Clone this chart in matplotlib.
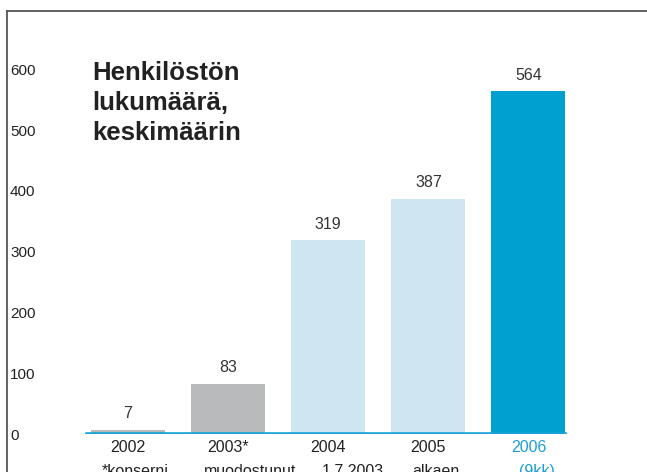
import matplotlib
matplotlib.use("Agg")
import matplotlib.pyplot as plt
from matplotlib.lines import Line2D

plt.rcParams['font.family'] = ['Liberation Sans', 'DejaVu Sans']

years = ["2002", "2003*", "2004", "2005", "2006"]
notes = ["*konserni", "muodostunut", "1.7.2003", "alkaen", "(9kk)"]
values = [7, 83, 319, 387, 564]
yticks = [0, 100, 200, 300, 400, 500, 600]
title = "Henkilöstön\nlukumäärä,\nkeskimäärin"

bar_colors = ["#b9babc", "#b9babc", "#cfe5f2", "#cfe5f2", "#00a0d1"]
label_colors = ["#222222", "#222222", "#222222", "#222222", "#1a9fd4"]
note_dx_px = [7, 22, 25, 8, 8]

W, H = 647, 472
fig = plt.figure(figsize=(W / 100, H / 100), dpi=100)
ax = fig.add_axes([60 / W, 38 / H, 560 / W, 423 / H])

x = list(range(len(values)))
ax.bar(x, values, width=0.739, color=bar_colors, zorder=2)
ax.set_xlim(-0.679, 4.914)
ax.set_ylim(0, 696)

for s in ax.spines.values():
    s.set_visible(False)

ax.axhline(0, xmin=27 / 560, xmax=505 / 560, color="#1aa3d6", lw=2.6, zorder=3)

ax.set_xticks(x)
ax.set_xticklabels(years, fontsize=11.5)
for t, c in zip(ax.get_xticklabels(), label_colors):
    t.set_color(c)
ax.tick_params(axis='x', length=0, pad=4)

ax.set_yticks(yticks)
ax.set_yticklabels([str(v) for v in yticks], fontsize=11, color="#222222", ha='left')
ax.tick_params(axis='y', length=0, pad=36)

for i, (v, n) in enumerate(zip(values, notes)):
    ax.annotate(str(v), xy=(i, v), xytext=(0, 6), textcoords='offset points',
                ha='center', va='bottom', fontsize=11.5, color="#333333")
    ax.annotate(n, xy=(i, 0), xytext=(note_dx_px[i] * 0.72, -30), textcoords='offset points',
                ha='center', va='baseline', fontsize=11.5, color=label_colors[i],
                annotation_clip=False)

fig.text(92 / W, 1 - 61 / H, title, ha='left', va='top', fontsize=18.5,
         fontweight='bold', color="#222222", linespacing=1.32)

# frame
fig.add_artist(Line2D([7 / W, 1], [1 - 11 / H, 1 - 11 / H], color="#555555", lw=1.3))
fig.add_artist(Line2D([7 / W, 7 / W], [0, 1 - 11 / H], color="#555555", lw=1.3))

fig.savefig("out.png", dpi=100)
